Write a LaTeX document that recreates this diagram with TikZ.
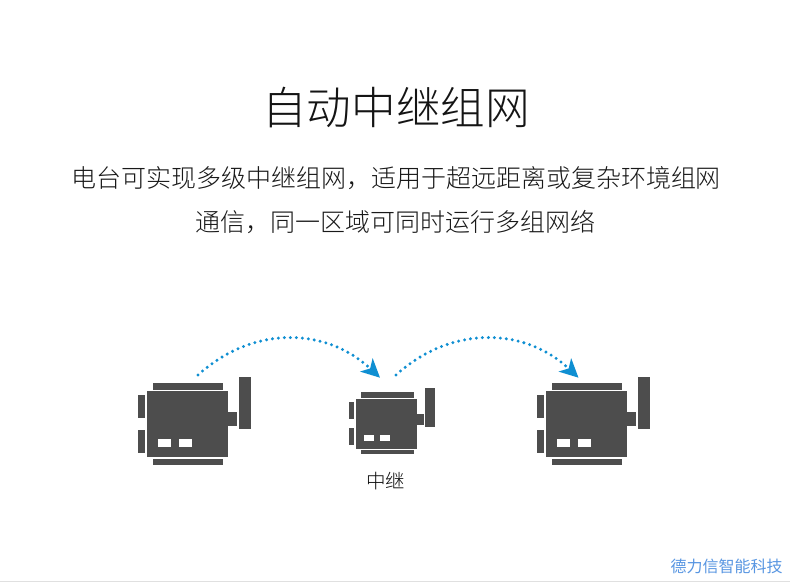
\documentclass[tikz,border=0pt]{standalone}
\usepackage{fontspec}
\usetikzlibrary{arrows.meta}
\newfontfamily\cjk{Noto Sans CJK SC}
\newfontfamily\cjklight{Noto Sans CJK SC Light}
\definecolor{radiogray}{HTML}{4D4D4D}
\definecolor{hopblue}{HTML}{0F8FD2}
\definecolor{brandblue}{HTML}{5896E2}
\tikzset{
  radiopart/.style={fill=radiogray},
  radiolamp/.style={fill=white},
  hop/.style={hopblue, line width=3.3pt, line cap=round, dash pattern=on 0pt off 6pt,
    -{Stealth[length=18.5pt,width=18pt,inset=5pt]}},
  pics/radio/.style={code={
    \fill [radiopart] (6,-8.6) rectangle (76,-1.3);
    \fill [radiopart] (0,0) rectangle (81,66);
    \fill [radiopart] (6,68) rectangle (76,73.4);
    \fill [radiopart] (-9.3,4) rectangle (-2,27);
    \fill [radiopart] (-9.3,38.7) rectangle (-2,61.4);
    \fill [radiopart] (81,20.7) rectangle (89.4,35);
    \fill [radiopart] (91.7,-14.3) rectangle (103.7,37.7);
    \fill [radiolamp] (10.7,47.7) rectangle (24,56);
    \fill [radiolamp] (31.7,47.7) rectangle (45,56);
  }}
}
\begin{document}
\begin{tikzpicture}[x=1pt,y=-1pt]
  \useasboundingbox (0,0) rectangle (790,582);
  \fill [white] (0,0) rectangle (790,582);

  \node [text=black!92] (title) at (396,108) {\cjklight\fontsize{44.6}{45}\selectfont 自动中继组网};
  \node [text=black!90] (lineone) at (396,178) {\cjklight\fontsize{25}{25}\selectfont 电台可实现多级中继组网，适用于超远距离或复杂环境组网};
  \node [text=black!90] (linetwo) at (395,222) {\cjklight\fontsize{25}{25}\selectfont 通信，同一区域可同时运行多组网络};

  \pic at (147.3,391.3) {radio};
  \pic [scale=.757] at (356,398.7) {radio};
  \pic at (546.1,391.3) {radio};

  \node [text=black!95] (relay) at (385.5,481) {\cjklight\fontsize{19.5}{20}\selectfont 中继};
  \node [text=brandblue] (brand) at (726.5,566) {\cjk\fontsize{16}{16}\selectfont 德力信智能科技};

  \coordinate (txout) at (198,375);
  \coordinate (relayin) at (380,377.7);
  \coordinate (relayout) at (396,375);
  \coordinate (rxin) at (578.5,377.7);

  \draw [hop] (txout) .. controls (252,326) and (325,326) .. (relayin);
  \draw [hop] (relayout) .. controls (450,326) and (523.5,326) .. (rxin);

  \coordinate (floorleft) at (0,581);
  \coordinate (floorright) at (790,581);
  \draw [black!12, line width=1pt] (floorleft) -- (floorright);
\end{tikzpicture}
\end{document}
